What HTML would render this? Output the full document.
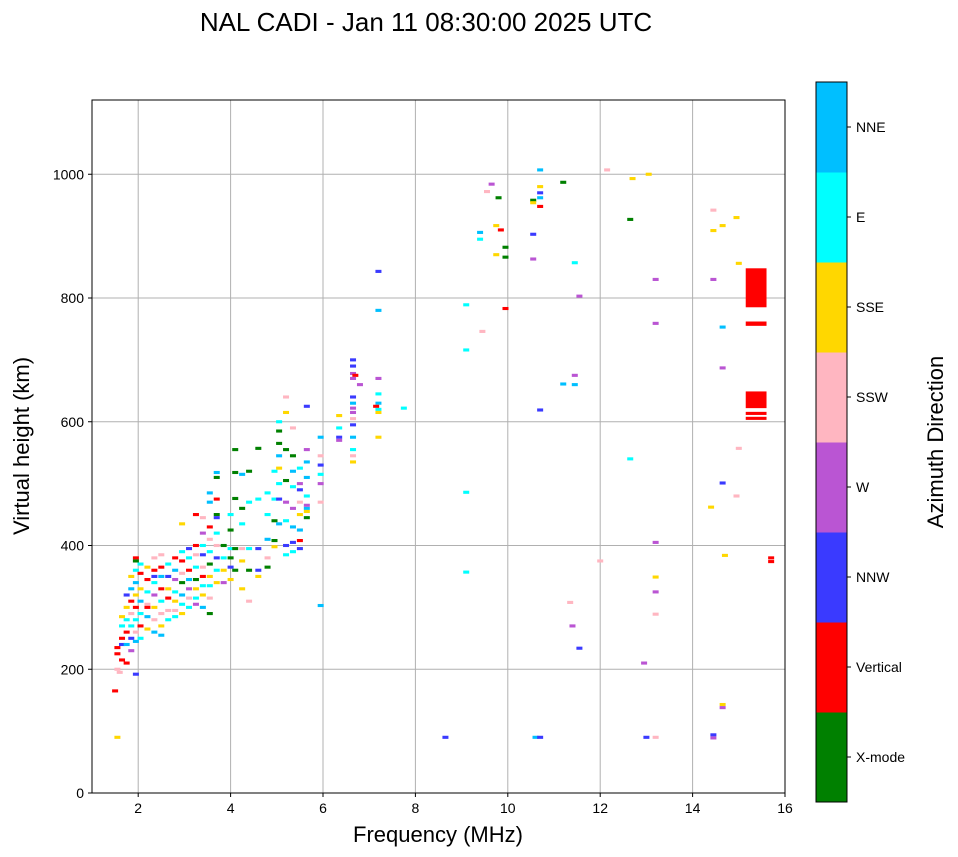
<!DOCTYPE html>
<html><head><meta charset="utf-8">
<style>
html,body{margin:0;padding:0;background:#fff;}
svg{display:block;font-family:"Liberation Sans","DejaVu Sans",sans-serif;}
</style></head>
<body>
<svg id="chart" width="958" height="857" viewBox="0 0 958 857">
<text x="426" y="31" font-size="26" text-anchor="middle">NAL CADI - Jan 11 08:30:00 2025 UTC</text>
<g id="grid"></g>
<g id="marks"></g>
<rect x="92" y="100" width="693" height="693" fill="none" stroke="#000" stroke-width="1"/>
<g id="axes"></g>
<text x="438" y="842" font-size="22" text-anchor="middle">Frequency (MHz)</text>
<text transform="translate(29,446) rotate(-90)" font-size="22" text-anchor="middle">Virtual height (km)</text>
<g id="cbar"></g>
<text transform="translate(943,442) rotate(-90)" font-size="22" text-anchor="middle">Azimuth Direction</text>
</svg>
<script>
const xTicks = [2,4,6,8,10,12,14,16];
const yTicks = [0,200,400,600,800,1000];
const dirNames = ["X-mode","Vertical","NNW","W","SSW","SSE","E","NNE"];
const dirColors = ["#008000","#ff0000","#3a3aff","#ba55d3","#ffb6c1","#ffd700","#00ffff","#00bfff"];
// [frequency MHz, virtual height km, direction index]
const echoes = [
[1.5,165,1],[1.55,90,5],[8.65,90,2],[10.6,90,7],[10.7,90,2],[13.0,90,2],[13.2,90,4],[14.45,94,2],[14.45,89,3],[14.65,143,5],[14.65,138,3],
[12.95,210,3],[11.55,234,2],[11.4,270,3],[11.35,308,4],[13.2,289,4],[13.2,325,3],[13.2,349,5],[13.2,405,3],[12.0,375,4],[14.7,384,5],
[9.1,357,6],[9.1,486,6],[12.65,540,6],[14.4,462,5],[14.65,501,2],[14.95,480,4],[15.0,557,4],[14.65,687,3],[14.65,753,7],[14.45,830,3],
[13.2,830,3],[13.2,759,3],[15.0,856,5],[14.45,909,5],[14.65,917,5],[14.95,930,5],[14.45,942,4],[12.65,927,0],[12.7,993,5],[13.05,1000,5],[12.15,1007,4],
[11.2,987,0],[10.7,1007,7],[10.7,980,5],[10.7,970,2],[10.7,962,7],[10.55,958,0],[10.55,954,5],[10.7,948,1],[9.95,882,0],[9.95,866,0],[9.8,962,0],
[9.65,984,3],[9.55,972,4],[9.75,917,5],[9.85,910,1],[9.75,870,5],[9.4,906,7],[9.4,895,6],[10.55,903,2],[10.55,863,3],[11.45,857,6],[9.95,783,1],
[11.55,803,3],[9.1,789,6],[9.45,746,4],[9.1,716,6],[10.7,619,2],[11.2,661,7],[11.45,660,7],[11.45,675,3],[7.2,843,2],[7.2,780,7],[7.75,622,6],
[1.55,235,1],[1.55,225,1],[1.55,200,4],[1.6,195,4],
[1.65,250,1],[1.65,270,6],[1.65,215,1],[1.65,240,2],[1.65,285,5],
[1.75,300,5],[1.75,280,6],[1.75,260,1],[1.75,240,7],[1.75,320,2],[1.75,210,1],
[1.85,330,7],[1.85,310,1],[1.85,290,4],[1.85,270,6],[1.85,350,5],[1.85,250,2],[1.85,230,3],
[1.95,380,1],[1.95,360,6],[1.95,340,7],[1.95,320,5],[1.95,300,1],[1.95,280,6],[1.95,260,4],[1.95,245,7],[1.95,192,2],[1.95,375,0],
[2.05,370,6],[2.05,355,1],[2.05,330,5],[2.05,310,7],[2.05,290,6],[2.05,270,1],[2.05,250,6],
[2.2,365,5],[2.2,345,1],[2.2,325,6],[2.2,305,4],[2.2,285,7],[2.2,265,5],[2.2,300,1],
[2.35,360,1],[2.35,340,6],[2.35,320,3],[2.35,300,5],[2.35,280,4],[2.35,260,7],[2.35,380,4],[2.35,350,2],
[2.5,385,4],[2.5,365,1],[2.5,350,7],[2.5,330,1],[2.5,310,6],[2.5,290,4],[2.5,270,5],[2.5,255,7],
[2.65,370,6],[2.65,350,2],[2.65,330,5],[2.65,315,1],[2.65,295,4],[2.65,280,6],
[2.8,380,1],[2.8,360,7],[2.8,345,3],[2.8,325,6],[2.8,310,5],[2.8,295,4],[2.8,285,6],
[2.95,390,6],[2.95,375,1],[2.95,355,4],[2.95,340,0],[2.95,320,7],[2.95,305,6],[2.95,290,5],[2.95,435,5],
[3.1,395,2],[3.1,380,6],[3.1,360,1],[3.1,345,7],[3.1,330,3],[3.1,315,4],[3.1,300,6],
[3.25,400,1],[3.25,385,4],[3.25,365,6],[3.25,345,0],[3.25,330,5],[3.25,315,6],[3.25,305,3],[3.25,450,1],
[3.4,420,3],[3.4,400,6],[3.4,385,2],[3.4,365,4],[3.4,350,1],[3.4,335,6],[3.4,320,5],[3.4,300,7],[3.4,445,4],
[3.55,430,1],[3.55,410,4],[3.55,390,6],[3.55,370,0],[3.55,350,5],[3.55,335,6],[3.55,315,4],[3.55,290,0],[3.55,470,7],[3.55,485,7],
[3.7,475,1],[3.7,450,0],[3.7,420,6],[3.7,400,4],[3.7,380,2],[3.7,360,6],[3.7,340,5],[3.7,510,0],[3.7,518,7],[3.7,445,2],
[3.85,400,0],[3.85,380,6],[3.85,360,5],[3.85,340,3],
[4.0,425,0],[4.0,395,6],[4.0,380,0],[4.0,345,5],[4.0,365,2],[4.0,450,6],
[4.1,555,0],[4.1,518,0],[4.1,476,0],[4.1,395,0],[4.1,360,0],
[4.25,515,7],[4.25,460,0],[4.25,435,6],[4.25,395,4],[4.25,375,5],[4.25,330,5],
[4.4,520,0],[4.4,470,6],[4.4,395,6],[4.4,360,0],[4.4,310,4],
[4.6,557,0],[4.6,475,6],[4.6,395,2],[4.6,350,5],[4.6,360,2],
[4.8,485,6],[4.8,450,6],[4.8,410,7],[4.8,380,4],[4.8,365,0],
[4.95,520,6],[4.95,475,6],[4.95,440,0],[4.95,408,0],[4.95,398,5],
[5.05,600,6],[5.05,585,0],[5.05,565,0],[5.05,545,7],[5.05,525,5],[5.05,500,6],[5.05,475,2],[5.05,435,7],
[5.2,615,5],[5.2,640,4],[5.2,555,0],[5.2,505,0],[5.2,470,3],[5.2,440,6],[5.2,400,2],[5.2,385,6],
[5.35,590,4],[5.35,545,0],[5.35,520,7],[5.35,495,6],[5.35,460,3],[5.35,430,7],[5.35,405,2],[5.35,390,6],
[5.5,525,6],[5.5,500,3],[5.5,490,2],[5.5,470,4],[5.5,450,5],[5.5,425,7],[5.5,408,1],[5.5,395,2],
[5.65,625,2],[5.65,555,3],[5.65,535,7],[5.65,510,7],[5.65,480,6],[5.65,460,7],[5.65,445,0],[5.65,465,3],[5.65,455,5],
[5.95,575,7],[5.95,545,4],[5.95,530,2],[5.95,515,6],[5.95,500,3],[5.95,470,4],[5.95,303,7],
[6.35,610,5],[6.35,590,6],[6.35,575,2],[6.35,570,3],
[6.65,700,2],[6.65,690,2],[6.65,678,3],[6.7,675,1],[6.65,670,3],[6.65,640,2],[6.65,630,7],[6.65,622,3],[6.65,605,4],[6.65,595,2],[6.65,575,7],[6.65,555,6],[6.65,545,4],[6.65,535,5],[6.65,615,3],
[6.8,660,3],[7.2,670,3],[7.2,645,6],[7.2,630,7],[7.2,620,6],[7.2,615,5],[7.2,575,5],[7.15,625,1],
[15.7,380,1],[15.7,374,1]
];
// red vertical blocks: [f start, f end, h low, h high]
const blocks = [[15.15,15.6,785,848],[15.15,15.6,622,649],[15.15,15.6,611,616],[15.15,15.6,603,608],[15.15,15.6,755,762]];

const NS="http://www.w3.org/2000/svg";
const X0=92,X1=785,Y0=793,Y1=100,fMin=1,fMax=16,hMin=0,hMax=1120;
function xs(f){return X0+(f-fMin)/(fMax-fMin)*(X1-X0);}
function ys(h){return Y0-(h-hMin)/(hMax-hMin)*(Y0-Y1);}
function mk(tag,attrs,parent){const e=document.createElementNS(NS,tag);for(const k in attrs)e.setAttribute(k,attrs[k]);parent.appendChild(e);return e;}
const grid=document.getElementById('grid'),axes=document.getElementById('axes'),marks=document.getElementById('marks'),cbar=document.getElementById('cbar');
xTicks.forEach(t=>{
  const x=xs(t);
  if(t<fMax){const g=mk('line',{x1:x,x2:x,y1:Y1,y2:Y0,stroke:'#b0b0b0','stroke-width':1},grid);
  
  }
  const tk=mk('line',{x1:x,x2:x,y1:Y0,y2:Y0+4,stroke:'#000'},axes);
  
  
  const tl=mk('text',{x:x,y:Y0+20,'font-size':14,'text-anchor':'middle'},axes);
  tl.textContent=t;
  
  
});
yTicks.forEach(t=>{
  const y=ys(t);
  if(t>0){const g=mk('line',{x1:X0,x2:X1,y1:y,y2:y,stroke:'#b0b0b0','stroke-width':1},grid);
  
  }
  const tk=mk('line',{x1:X0-4,x2:X0,y1:y,y2:y,stroke:'#000'},axes);
  
  
  const tl=mk('text',{x:X0-8,y:y+5,'font-size':14,'text-anchor':'end'},axes);
  tl.textContent=t;
  
  
});
const bw=0.13,bh=5;
echoes.forEach(p=>{
  const r=mk('rect',{x:xs(p[0]-bw/2),y:ys(p[1]+bh/2),width:xs(bw)-xs(0),height:ys(0)-ys(bh),fill:dirColors[p[2]]},marks);
  
  
});
blocks.forEach(b=>{
  const r=mk('rect',{x:xs(b[0]),y:ys(b[3]),width:xs(b[1])-xs(b[0]),height:ys(b[2])-ys(b[3]),fill:dirColors[1]},marks);
  
  
});
const CX=816,CW=31,CY0=802,CY1=82,seg=(CY0-CY1)/dirNames.length;
dirNames.forEach((n,i)=>{
  const y=CY0-(i+1)*seg;
  const r=mk('rect',{x:CX,y:y,width:CW,height:seg+0.5,fill:dirColors[i]},cbar);
  
  
  const tk=mk('line',{x1:CX+CW,x2:CX+CW+4,y1:y+seg/2,y2:y+seg/2,stroke:'#000'},cbar);
  
  
  const tl=mk('text',{x:CX+CW+9,y:y+seg/2+5,'font-size':14},cbar);
  tl.textContent=n;
  
  
});
const fr=mk('rect',{x:CX,y:CY1,width:CW,height:CY0-CY1,fill:'none',stroke:'#000'},cbar);


</script>
</body></html>
